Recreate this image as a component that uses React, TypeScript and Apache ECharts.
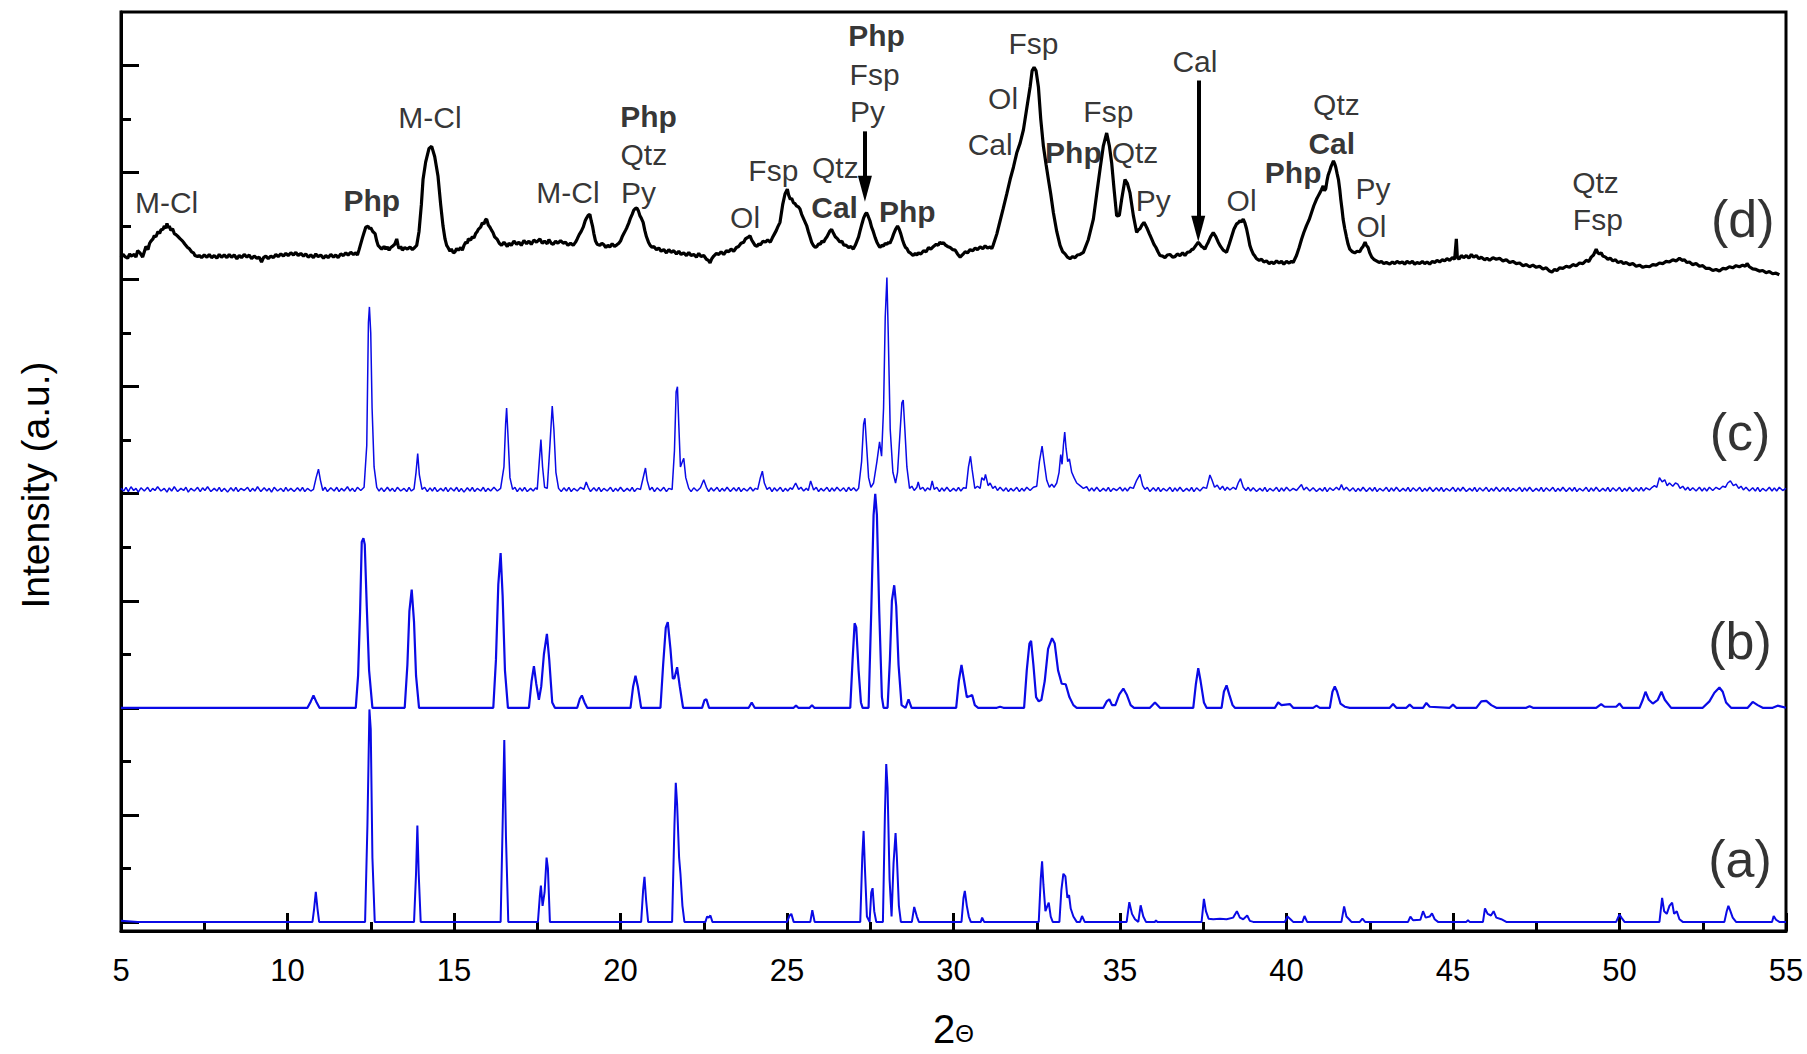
import React, { useEffect, useRef } from "react";
import * as echarts from "echarts";

// ---------------- data (2θ, stacked intensity in a.u.) ----------------
const seriesA: number[][] = [
  [5, 0.02], [5.5, 0],
  [10.75, 0], [10.8, 0.25], [10.85, 0.56], [10.9, 0.25], [10.95, 0],
  [12.33, 0], [12.4, 1.8], [12.46, 3.97], [12.5, 3.6], [12.55, 1.2], [12.62, 0],
  [13.8, 0], [13.86, 0.9], [13.9, 1.8], [13.94, 0.9], [14.0, 0],
  [16.4, 0], [16.46, 1.8], [16.51, 3.4], [16.56, 1.6], [16.63, 0],
  [17.52, 0], [17.58, 0.5], [17.61, 0.68], [17.66, 0.3], [17.72, 0.55], [17.78, 1.2], [17.82, 1.0], [17.88, 0],
  [20.62, 0], [20.68, 0.6], [20.72, 0.84], [20.77, 0.4], [20.83, 0],
  [21.55, 0], [21.62, 1.8], [21.66, 2.6], [21.7, 2.2], [21.76, 1.2], [21.8, 0.9], [21.86, 0.3], [21.92, 0],
  [22.55, 0], [22.6, 0.1], [22.65, 0.08], [22.7, 0.12], [22.76, 0],
  [25.0, 0], [25.08, 0.12], [25.13, 0.15], [25.2, 0],
  [25.7, 0], [25.76, 0.22], [25.83, 0],
  [27.2, 0], [27.26, 1.2], [27.3, 1.7], [27.34, 1.0], [27.4, 0.1], [27.48, 0], [27.53, 0.55], [27.57, 0.63], [27.62, 0.2], [27.68, 0],
  [27.88, 0], [27.94, 2.0], [27.98, 2.95], [28.02, 2.5], [28.08, 0.8], [28.14, 0.1], [28.2, 1.1], [28.26, 1.66], [28.3, 1.2], [28.36, 0.3], [28.42, 0],
  [28.75, 0], [28.82, 0.28], [28.9, 0.1], [28.96, 0],
  [30.24, 0], [30.3, 0.45], [30.34, 0.58], [30.4, 0.3], [30.46, 0.1], [30.52, 0],
  [30.82, 0], [30.86, 0.08], [30.92, 0],
  [32.56, 0], [32.62, 0.8], [32.66, 1.13], [32.7, 0.7], [32.76, 0.2], [32.82, 0.3], [32.86, 0.36], [32.92, 0.1], [32.98, 0],
  [33.18, 0], [33.24, 0.6], [33.3, 0.9], [33.36, 0.85], [33.42, 0.45], [33.47, 0.5], [33.52, 0.25], [33.6, 0.1], [33.7, 0],
  [33.8, 0], [33.86, 0.11], [33.94, 0],
  [35.2, 0], [35.28, 0.37], [35.36, 0.15], [35.45, 0.05], [35.55, 0], [35.62, 0.31], [35.7, 0.1], [35.78, 0],
  [36.05, 0], [36.08, 0.03], [36.12, 0],
  [37.45, 0], [37.52, 0.43], [37.58, 0.2], [37.66, 0.06], [37.8, 0.05], [38.0, 0.06], [38.2, 0.05], [38.4, 0.08], [38.51, 0.2], [38.6, 0.08], [38.7, 0.05], [38.82, 0.12], [38.9, 0.02], [39.0, 0],
  [39.95, 0], [40.03, 0.1], [40.12, 0.05], [40.2, 0],
  [40.48, 0], [40.54, 0.11], [40.62, 0],
  [41.65, 0], [41.73, 0.29], [41.8, 0.1], [41.88, 0.05], [41.95, 0],
  [42.2, 0], [42.28, 0.06], [42.36, 0],
  [43.65, 0], [43.72, 0.1], [43.8, 0.03], [44.02, 0.04], [44.1, 0.2], [44.18, 0.08], [44.3, 0.1], [44.37, 0.16], [44.45, 0.05], [44.55, 0],
  [45.4, 0], [45.45, 0.03], [45.5, 0],
  [45.9, 0], [45.96, 0.25], [46.04, 0.15], [46.14, 0.12], [46.22, 0.2], [46.3, 0.08], [46.45, 0.05], [46.6, 0],
  [49.9, 0], [50.0, 0.14], [50.08, 0.06], [50.15, 0],
  [51.2, 0], [51.28, 0.45], [51.34, 0.2], [51.42, 0.15], [51.5, 0.3], [51.58, 0.36], [51.64, 0.15], [51.72, 0.2], [51.8, 0.05], [51.9, 0],
  [53.15, 0], [53.22, 0.2], [53.27, 0.3], [53.32, 0.22], [53.4, 0.08], [53.5, 0],
  [54.58, 0], [54.63, 0.11], [54.7, 0.04], [54.8, 0],
  [55, 0],
];

const seriesB: number[][] = [
  [5, 4.0],
  [10.6, 4.0], [10.7, 4.12], [10.78, 4.23], [10.86, 4.12], [10.96, 4.0],
  [12.05, 4.0], [12.12, 4.6], [12.18, 5.8], [12.23, 7.1], [12.28, 7.17], [12.32, 7.05], [12.38, 5.9], [12.45, 4.7], [12.55, 4.0],
  [13.52, 4.0], [13.6, 4.8], [13.66, 5.8], [13.73, 6.21], [13.8, 5.6], [13.86, 4.6], [13.95, 4.0],
  [16.18, 4.0], [16.26, 4.9], [16.33, 6.3], [16.4, 6.89], [16.46, 6.1], [16.53, 4.7], [16.62, 4.0],
  [17.25, 4.0], [17.33, 4.5], [17.4, 4.78], [17.47, 4.45], [17.55, 4.15], [17.62, 4.4], [17.7, 5.0], [17.79, 5.38], [17.86, 4.9], [17.95, 4.1], [18.03, 4.0],
  [18.7, 4.0], [18.78, 4.17], [18.84, 4.23], [18.92, 4.1], [19.0, 4.0],
  [20.3, 4.0], [20.38, 4.4], [20.45, 4.6], [20.52, 4.4], [20.62, 4.0],
  [21.2, 4.0], [21.28, 4.8], [21.36, 5.5], [21.42, 5.6], [21.5, 5.1], [21.57, 4.55], [21.62, 4.55], [21.7, 4.76], [21.78, 4.4], [21.88, 4.0],
  [22.45, 4.0], [22.52, 4.14], [22.58, 4.16], [22.66, 4.0],
  [23.85, 4.0], [23.94, 4.1], [24.03, 4.0],
  [25.2, 4.0], [25.27, 4.04], [25.34, 4.0],
  [25.68, 4.0], [25.75, 4.05], [25.82, 4.0],
  [26.9, 4.0], [26.97, 4.9], [27.03, 5.58], [27.08, 5.5], [27.15, 4.7], [27.22, 4.1], [27.27, 4.0],
  [27.45, 4.0], [27.53, 5.8], [27.6, 7.6], [27.65, 8.0], [27.7, 7.6], [27.77, 5.8], [27.85, 4.2], [27.9, 4.0],
  [28.02, 4.0], [28.09, 4.9], [28.15, 6.0], [28.22, 6.29], [28.28, 5.9], [28.35, 4.8], [28.44, 4.05],
  [28.56, 4.0], [28.65, 4.16], [28.74, 4.0],
  [30.08, 4.0], [30.16, 4.5], [30.24, 4.8], [30.32, 4.5], [30.4, 4.2], [30.5, 4.22], [30.56, 4.24], [30.64, 4.05], [30.74, 4.0],
  [31.3, 4.0], [31.4, 4.02], [31.5, 4.0],
  [32.12, 4.0], [32.2, 4.7], [32.28, 5.2], [32.33, 5.25], [32.4, 4.8], [32.48, 4.2], [32.56, 4.12], [32.64, 4.15],
  [32.74, 4.5], [32.84, 5.1], [32.96, 5.3], [33.04, 5.2], [33.14, 4.7], [33.25, 4.45], [33.37, 4.44], [33.48, 4.2], [33.6, 4.05], [33.7, 4.0],
  [34.5, 4.0], [34.6, 4.12], [34.68, 4.16], [34.76, 4.05], [34.86, 4.05], [34.98, 4.25], [35.1, 4.36], [35.2, 4.25], [35.32, 4.05], [35.42, 4.0],
  [35.9, 4.0], [36.05, 4.1], [36.2, 4.0],
  [37.2, 4.0], [37.28, 4.45], [37.35, 4.74], [37.42, 4.5], [37.52, 4.1], [37.6, 4.0],
  [38.05, 4.0], [38.12, 4.3], [38.2, 4.42], [38.28, 4.25], [38.38, 4.05], [38.45, 4.0],
  [39.65, 4.0], [39.75, 4.1], [39.85, 4.05], [40.1, 4.07], [40.2, 4.0],
  [40.8, 4.0], [40.9, 4.04], [41.0, 4.0],
  [41.3, 4.0], [41.38, 4.3], [41.45, 4.4], [41.52, 4.3], [41.62, 4.08], [41.75, 4.02], [41.9, 4.0],
  [43.1, 4.0], [43.2, 4.07], [43.3, 4.0],
  [43.6, 4.0], [43.7, 4.06], [43.8, 4.0],
  [44.1, 4.0], [44.2, 4.09], [44.3, 4.02],
  [44.9, 4.0], [45.0, 4.06], [45.1, 4.0],
  [45.7, 4.0], [45.85, 4.12], [46.0, 4.13], [46.15, 4.05], [46.3, 4.0],
  [47.2, 4.0], [47.3, 4.03], [47.4, 4.0],
  [49.3, 4.0], [49.45, 4.07], [49.55, 4.02], [49.9, 4.02], [50.0, 4.08], [50.1, 4.0],
  [50.6, 4.0], [50.7, 4.15], [50.78, 4.3], [50.88, 4.15], [51.0, 4.08], [51.15, 4.15], [51.26, 4.3], [51.36, 4.15], [51.55, 4.0],
  [52.5, 4.0], [52.7, 4.12], [52.85, 4.28], [53.0, 4.38], [53.1, 4.3], [53.2, 4.1], [53.35, 4.0],
  [53.85, 4.0], [54.0, 4.11], [54.15, 4.05], [54.3, 4.0],
  [54.6, 4.0], [54.75, 4.04], [55, 4.0],
];

const seriesC: number[][] = [
  [5.0, 8.1], [5.08, 8.05], [5.15, 8.12], [5.22, 8.04], [5.3, 8.13], [5.38, 8.06], [5.45, 8.1], [5.52, 8.03], [5.6, 8.11], [5.7, 8.05], [5.8, 8.12], [5.88, 8.04], [5.95, 8.1], [6.02, 8.06], [6.1, 8.13], [6.2, 8.05], [6.3, 8.1], [6.38, 8.03], [6.45, 8.11], [6.52, 8.05], [6.6, 8.13], [6.7, 8.04], [6.8, 8.1], [6.88, 8.06], [6.95, 8.12], [7.02, 8.03], [7.1, 8.1], [7.2, 8.05], [7.3, 8.12], [7.38, 8.04], [7.45, 8.11], [7.52, 8.06], [7.6, 8.13], [7.7, 8.04], [7.8, 8.1], [7.88, 8.05], [7.95, 8.12], [8.02, 8.04], [8.1, 8.1], [8.2, 8.03], [8.3, 8.11], [8.38, 8.05], [8.45, 8.12], [8.52, 8.04], [8.6, 8.1], [8.7, 8.06], [8.8, 8.12], [8.88, 8.04], [8.95, 8.1], [9.02, 8.05], [9.1, 8.13], [9.2, 8.04], [9.3, 8.11], [9.38, 8.05], [9.45, 8.1], [9.52, 8.03], [9.6, 8.12], [9.7, 8.05], [9.8, 8.1], [9.88, 8.04], [9.95, 8.12], [10.02, 8.05], [10.1, 8.1], [10.2, 8.04], [10.3, 8.11], [10.38, 8.05], [10.45, 8.12], [10.52, 8.04], [10.6, 8.1], [10.7, 8.05], [10.78, 8.08],
  [10.86, 8.3], [10.93, 8.46], [10.99, 8.25], [11.06, 8.06], [11.13, 8.12], [11.2, 8.04], [11.3, 8.11], [11.4, 8.05], [11.48, 8.12], [11.55, 8.04], [11.62, 8.1], [11.7, 8.05], [11.8, 8.13], [11.88, 8.05], [11.95, 8.1], [12.02, 8.04], [12.1, 8.12], [12.2, 8.06], [12.3, 8.12],
  [12.38, 8.9], [12.43, 11.2], [12.46, 11.49], [12.5, 11.0], [12.54, 9.6], [12.6, 8.5], [12.68, 8.12], [12.75, 8.05], [12.82, 8.11], [12.9, 8.04], [13.0, 8.12], [13.08, 8.05], [13.15, 8.1], [13.22, 8.04], [13.3, 8.12], [13.4, 8.05], [13.5, 8.1], [13.58, 8.04], [13.65, 8.12], [13.72, 8.05], [13.8, 8.09],
  [13.86, 8.4], [13.91, 8.75], [13.96, 8.35], [14.04, 8.08], [14.12, 8.12], [14.2, 8.04], [14.28, 8.11], [14.35, 8.05], [14.42, 8.12], [14.5, 8.04], [14.6, 8.1], [14.68, 8.05], [14.75, 8.12], [14.82, 8.04], [14.9, 8.11], [15.0, 8.05], [15.08, 8.12], [15.15, 8.04], [15.22, 8.1], [15.3, 8.03], [15.4, 8.11], [15.48, 8.05], [15.55, 8.12], [15.62, 8.04], [15.7, 8.1], [15.8, 8.05], [15.88, 8.12], [15.95, 8.04], [16.02, 8.1], [16.1, 8.05], [16.2, 8.12], [16.3, 8.05], [16.4, 8.1],
  [16.5, 8.5], [16.55, 9.3], [16.58, 9.6], [16.62, 9.1], [16.68, 8.3], [16.76, 8.08], [16.83, 8.12], [16.9, 8.04], [16.98, 8.11], [17.05, 8.05], [17.12, 8.12], [17.2, 8.04], [17.3, 8.1], [17.38, 8.05], [17.45, 8.11], [17.5, 8.08],
  [17.56, 8.6], [17.61, 9.01], [17.66, 8.5], [17.72, 8.12], [17.8, 8.1], [17.88, 8.9], [17.95, 9.64], [18.0, 9.2], [18.06, 8.4], [18.14, 8.1], [18.22, 8.04], [18.3, 8.11], [18.38, 8.05], [18.45, 8.12], [18.52, 8.04], [18.6, 8.1], [18.7, 8.05], [18.8, 8.12], [18.9, 8.08],
  [18.97, 8.22], [19.03, 8.12], [19.1, 8.04], [19.2, 8.11], [19.28, 8.05], [19.35, 8.12], [19.42, 8.04], [19.5, 8.1], [19.6, 8.05], [19.7, 8.12], [19.78, 8.04], [19.85, 8.1], [19.92, 8.05], [20.0, 8.12], [20.1, 8.04], [20.2, 8.1], [20.28, 8.05], [20.35, 8.12], [20.42, 8.04], [20.5, 8.1], [20.6, 8.08],
  [20.7, 8.35], [20.75, 8.48], [20.8, 8.25], [20.88, 8.07], [20.95, 8.12], [21.02, 8.04], [21.1, 8.11], [21.2, 8.05], [21.3, 8.12], [21.38, 8.04], [21.45, 8.1], [21.55, 8.08],
  [21.62, 8.8], [21.67, 9.9], [21.71, 10.0], [21.75, 9.3], [21.8, 8.5], [21.86, 8.6], [21.9, 8.66], [21.96, 8.3], [22.05, 8.1], [22.12, 8.04], [22.2, 8.11], [22.3, 8.05], [22.4, 8.11],
  [22.5, 8.26], [22.58, 8.12], [22.65, 8.04], [22.72, 8.11], [22.8, 8.05], [22.9, 8.12], [22.98, 8.04], [23.05, 8.1], [23.12, 8.05], [23.2, 8.12], [23.3, 8.04], [23.4, 8.11], [23.48, 8.05], [23.55, 8.12], [23.62, 8.04], [23.7, 8.1], [23.8, 8.05], [23.9, 8.12], [23.98, 8.05], [24.05, 8.1], [24.12, 8.08],
  [24.2, 8.3], [24.26, 8.42], [24.32, 8.2], [24.4, 8.08], [24.48, 8.12], [24.55, 8.04], [24.62, 8.11], [24.7, 8.05], [24.8, 8.12], [24.88, 8.04], [24.95, 8.1], [25.02, 8.05], [25.1, 8.11], [25.16, 8.08],
  [25.26, 8.2], [25.35, 8.08], [25.42, 8.12], [25.5, 8.05], [25.58, 8.1], [25.64, 8.06], [25.71, 8.24], [25.8, 8.07], [25.88, 8.12], [25.95, 8.04], [26.02, 8.1], [26.1, 8.05], [26.2, 8.12], [26.28, 8.04], [26.35, 8.11], [26.42, 8.05], [26.5, 8.12], [26.6, 8.05], [26.7, 8.11], [26.78, 8.04], [26.85, 8.12], [26.92, 8.06], [27.0, 8.11], [27.08, 8.05], [27.15, 8.1],
  [27.24, 8.6], [27.3, 9.3], [27.34, 9.41], [27.38, 9.0], [27.45, 8.3], [27.52, 8.12], [27.6, 8.2], [27.7, 8.6], [27.78, 8.97], [27.84, 8.7],
  [27.9, 9.6], [27.95, 11.3], [28.0, 12.04], [28.04, 11.0], [28.1, 9.2], [28.18, 8.4], [28.26, 8.2], [28.32, 8.4],
  [28.4, 9.2], [28.45, 9.7], [28.49, 9.75], [28.54, 9.2], [28.6, 8.5], [28.68, 8.1], [28.75, 8.14], [28.82, 8.06], [28.9, 8.12], [28.94, 8.22], [29.0, 8.08], [29.08, 8.12], [29.15, 8.05], [29.22, 8.11], [29.3, 8.07], [29.36, 8.24], [29.42, 8.08], [29.5, 8.12], [29.58, 8.04], [29.65, 8.11], [29.72, 8.05], [29.8, 8.12], [29.9, 8.04], [30.0, 8.1], [30.08, 8.05], [30.15, 8.12], [30.22, 8.05], [30.3, 8.11], [30.38, 8.1],
  [30.45, 8.5], [30.51, 8.7], [30.56, 8.45], [30.64, 8.1], [30.72, 8.14], [30.8, 8.1], [30.85, 8.3], [30.92, 8.25], [30.96, 8.36], [31.04, 8.15], [31.1, 8.2], [31.18, 8.1], [31.25, 8.14], [31.32, 8.06], [31.4, 8.12], [31.5, 8.05], [31.58, 8.11], [31.65, 8.04], [31.72, 8.1], [31.8, 8.05], [31.9, 8.12], [31.98, 8.04], [32.05, 8.1], [32.12, 8.05], [32.2, 8.12], [32.3, 8.06], [32.4, 8.12], [32.5, 8.14],
  [32.58, 8.6], [32.66, 8.89], [32.72, 8.6], [32.8, 8.25], [32.88, 8.12], [32.95, 8.18], [33.02, 8.12], [33.1, 8.2], [33.17, 8.4], [33.22, 8.73], [33.26, 8.55], [33.3, 8.9], [33.34, 9.15], [33.38, 8.85], [33.43, 8.6], [33.48, 8.65], [33.55, 8.4], [33.62, 8.3], [33.7, 8.2], [33.8, 8.15], [33.9, 8.1], [34.0, 8.13], [34.08, 8.05], [34.15, 8.11], [34.22, 8.05], [34.3, 8.12], [34.4, 8.04], [34.5, 8.1], [34.58, 8.05], [34.65, 8.12], [34.72, 8.04], [34.8, 8.1], [34.9, 8.06], [35.0, 8.12], [35.08, 8.05], [35.15, 8.11], [35.22, 8.05], [35.3, 8.12], [35.4, 8.1],
  [35.5, 8.25], [35.6, 8.36], [35.68, 8.15], [35.75, 8.08], [35.82, 8.12], [35.9, 8.04], [36.0, 8.11], [36.08, 8.05], [36.15, 8.12], [36.22, 8.04], [36.3, 8.1], [36.4, 8.05], [36.5, 8.12], [36.58, 8.04], [36.65, 8.11], [36.72, 8.05], [36.8, 8.12], [36.9, 8.04], [37.0, 8.1], [37.08, 8.05], [37.15, 8.12], [37.22, 8.04], [37.3, 8.11], [37.4, 8.05], [37.5, 8.12], [37.6, 8.1],
  [37.7, 8.35], [37.76, 8.26], [37.84, 8.12], [37.92, 8.16], [38.0, 8.08], [38.08, 8.14], [38.15, 8.06], [38.22, 8.12], [38.3, 8.07], [38.4, 8.12], [38.48, 8.08], [38.55, 8.2], [38.62, 8.28], [38.7, 8.12], [38.78, 8.06], [38.85, 8.12], [38.92, 8.05], [39.0, 8.11], [39.1, 8.04], [39.2, 8.1], [39.28, 8.05], [39.35, 8.12], [39.42, 8.04], [39.5, 8.1], [39.6, 8.05], [39.7, 8.12], [39.78, 8.04], [39.85, 8.11], [39.92, 8.05], [40.0, 8.12], [40.1, 8.05], [40.2, 8.1], [40.3, 8.06], [40.38, 8.12], [40.45, 8.17], [40.52, 8.07], [40.6, 8.12], [40.7, 8.05], [40.8, 8.11], [40.9, 8.04], [41.0, 8.1], [41.08, 8.05], [41.15, 8.12], [41.22, 8.04], [41.3, 8.11], [41.4, 8.06], [41.5, 8.12], [41.58, 8.07], [41.65, 8.17], [41.72, 8.07], [41.8, 8.12], [41.9, 8.05],
  [42.0, 8.11], [42.08, 8.04], [42.15, 8.1], [42.22, 8.05], [42.3, 8.12], [42.4, 8.04], [42.5, 8.11], [42.58, 8.05], [42.65, 8.12], [42.72, 8.04], [42.8, 8.1], [42.9, 8.05], [43.0, 8.12], [43.08, 8.04], [43.15, 8.11], [43.22, 8.05], [43.3, 8.12], [43.4, 8.04], [43.5, 8.1], [43.58, 8.05], [43.65, 8.12], [43.72, 8.04], [43.8, 8.11], [43.9, 8.05], [44.0, 8.12], [44.08, 8.04], [44.15, 8.1], [44.22, 8.05], [44.3, 8.12], [44.4, 8.04], [44.5, 8.11], [44.58, 8.05], [44.65, 8.12], [44.72, 8.04], [44.8, 8.1], [44.9, 8.05], [45.0, 8.12], [45.08, 8.04], [45.15, 8.11], [45.22, 8.05], [45.3, 8.12], [45.4, 8.04], [45.5, 8.1], [45.58, 8.05], [45.65, 8.12], [45.72, 8.04], [45.8, 8.11], [45.9, 8.05], [46.0, 8.12], [46.08, 8.04], [46.15, 8.1], [46.22, 8.05], [46.3, 8.12], [46.4, 8.04], [46.5, 8.11], [46.58, 8.05], [46.65, 8.12], [46.72, 8.04], [46.8, 8.1], [46.9, 8.05], [47.0, 8.12], [47.08, 8.04], [47.15, 8.11], [47.22, 8.05], [47.3, 8.12], [47.4, 8.04], [47.5, 8.1], [47.58, 8.05], [47.65, 8.12], [47.72, 8.04], [47.8, 8.11], [47.9, 8.05], [48.0, 8.12], [48.08, 8.04], [48.15, 8.1], [48.22, 8.05], [48.3, 8.12], [48.4, 8.04], [48.5, 8.11], [48.58, 8.05], [48.65, 8.12], [48.72, 8.04], [48.8, 8.1], [48.9, 8.05], [49.0, 8.12], [49.08, 8.04], [49.15, 8.11], [49.22, 8.05], [49.3, 8.12], [49.4, 8.04], [49.5, 8.1], [49.58, 8.05], [49.65, 8.12], [49.72, 8.04], [49.8, 8.11], [49.9, 8.05], [50.0, 8.12], [50.08, 8.04], [50.15, 8.1], [50.22, 8.05], [50.3, 8.12], [50.4, 8.04], [50.5, 8.11], [50.58, 8.05], [50.65, 8.12], [50.72, 8.05], [50.8, 8.11], [50.9, 8.07], [50.98, 8.12],
  [51.05, 8.15], [51.12, 8.12], [51.2, 8.3], [51.28, 8.22], [51.36, 8.26], [51.43, 8.15], [51.5, 8.2], [51.6, 8.14], [51.68, 8.2], [51.75, 8.18], [51.82, 8.1], [51.9, 8.14], [51.98, 8.07], [52.05, 8.12], [52.12, 8.06], [52.2, 8.11], [52.3, 8.05], [52.4, 8.12], [52.48, 8.05], [52.55, 8.11], [52.62, 8.05], [52.7, 8.12], [52.8, 8.06], [52.9, 8.12], [53.0, 8.08], [53.1, 8.14], [53.18, 8.12], [53.25, 8.2], [53.33, 8.24], [53.42, 8.15], [53.5, 8.18], [53.58, 8.1], [53.65, 8.14], [53.72, 8.07], [53.8, 8.12], [53.9, 8.05], [54.0, 8.11], [54.08, 8.05], [54.15, 8.12], [54.22, 8.04], [54.3, 8.1], [54.4, 8.05], [54.5, 8.12], [54.58, 8.05], [54.65, 8.11], [54.72, 8.05], [54.8, 8.12], [54.9, 8.06], [55, 8.1],
];

const seriesD: number[][] = [
  [5.0, 12.42], [5.06, 12.47], [5.12, 12.43], [5.2, 12.4], [5.26, 12.48], [5.3, 12.44], [5.4, 12.47], [5.45, 12.42], [5.5, 12.54], [5.57, 12.5], [5.65, 12.42], [5.7, 12.52], [5.75, 12.62], [5.81, 12.56], [5.86, 12.68], [5.9, 12.72], [5.96, 12.76], [6.0, 12.82], [6.05, 12.8], [6.11, 12.9], [6.16, 12.86], [6.2, 12.93], [6.26, 12.94], [6.3, 13.0], [6.35, 12.96], [6.38, 13.05], [6.42, 12.97], [6.45, 13.0], [6.5, 12.92], [6.55, 12.95], [6.6, 12.86], [6.65, 12.84], [6.72, 12.8], [6.78, 12.76], [6.85, 12.72], [6.92, 12.66], [7.0, 12.6], [7.05, 12.58], [7.12, 12.52], [7.18, 12.5], [7.22, 12.45], [7.3, 12.43], [7.35, 12.45],
  [7.42, 12.41], [7.5, 12.46], [7.58, 12.42], [7.65, 12.47], [7.72, 12.41], [7.8, 12.45], [7.88, 12.4], [7.95, 12.47], [8.02, 12.42], [8.1, 12.46], [8.18, 12.41], [8.25, 12.47], [8.32, 12.42], [8.4, 12.46], [8.48, 12.39], [8.55, 12.45], [8.62, 12.41], [8.7, 12.47], [8.78, 12.42], [8.85, 12.46], [8.92, 12.39], [9.0, 12.44], [9.08, 12.4], [9.15, 12.42], [9.22, 12.33], [9.28, 12.41], [9.35, 12.44], [9.42, 12.39], [9.5, 12.44], [9.58, 12.41], [9.65, 12.47], [9.72, 12.43], [9.8, 12.48], [9.88, 12.44], [9.95, 12.49], [10.02, 12.45], [10.1, 12.5], [10.18, 12.46], [10.25, 12.51], [10.32, 12.45], [10.4, 12.49], [10.48, 12.44], [10.55, 12.48], [10.62, 12.42], [10.7, 12.46], [10.78, 12.41], [10.85, 12.48], [10.92, 12.43], [11.0, 12.46], [11.08, 12.4], [11.15, 12.45], [11.22, 12.41], [11.3, 12.47], [11.38, 12.42], [11.45, 12.46], [11.52, 12.41], [11.6, 12.48], [11.68, 12.45], [11.75, 12.5], [11.82, 12.46], [11.9, 12.51], [11.98, 12.47], [12.05, 12.5], [12.1, 12.46], [12.15, 12.56],
  [12.25, 12.78], [12.3, 12.88], [12.35, 12.98], [12.42, 13.0], [12.46, 12.95], [12.5, 12.97], [12.56, 12.9], [12.63, 12.86], [12.68, 12.72], [12.72, 12.64], [12.78, 12.6], [12.83, 12.57], [12.9, 12.62], [12.95, 12.57], [13.0, 12.61], [13.05, 12.55], [13.1, 12.6], [13.15, 12.62], [13.22, 12.66], [13.28, 12.76], [13.32, 12.64], [13.35, 12.58], [13.4, 12.62], [13.45, 12.55], [13.52, 12.6], [13.6, 12.57], [13.68, 12.61], [13.75, 12.56], [13.82, 12.6], [13.88, 12.64],
  [13.95, 12.9], [14.02, 13.4], [14.07, 13.87], [14.15, 14.2], [14.25, 14.45], [14.33, 14.49], [14.42, 14.3], [14.52, 13.93], [14.6, 13.4], [14.67, 13.0], [14.73, 12.76], [14.78, 12.64], [14.82, 12.6], [14.88, 12.53], [14.92, 12.57], [14.98, 12.5], [15.03, 12.52], [15.08, 12.58], [15.13, 12.55], [15.2, 12.6], [15.25, 12.55], [15.3, 12.64], [15.35, 12.7], [15.4, 12.68], [15.43, 12.76], [15.5, 12.74], [15.55, 12.8], [15.6, 12.78], [15.65, 12.86], [15.7, 12.9], [15.73, 12.94], [15.8, 12.98], [15.85, 13.06], [15.9, 13.04], [15.95, 13.12], [15.98, 13.13], [16.03, 13.02], [16.08, 12.98], [16.13, 12.92], [16.17, 12.88], [16.22, 12.8], [16.3, 12.75], [16.36, 12.68], [16.43, 12.64], [16.5, 12.7], [16.55, 12.66], [16.6, 12.62], [16.65, 12.68], [16.72, 12.64], [16.8, 12.72], [16.88, 12.66], [16.95, 12.7], [17.02, 12.64], [17.1, 12.73], [17.18, 12.67], [17.25, 12.72], [17.32, 12.66], [17.4, 12.74], [17.48, 12.7], [17.58, 12.76], [17.65, 12.68], [17.72, 12.72], [17.8, 12.67], [17.85, 12.75], [17.92, 12.68], [17.98, 12.66], [18.05, 12.72], [18.12, 12.68], [18.2, 12.73], [18.28, 12.68], [18.35, 12.7], [18.42, 12.64], [18.5, 12.68], [18.58, 12.64],
  [18.65, 12.7], [18.7, 12.76], [18.76, 12.84], [18.82, 12.9], [18.88, 12.98], [18.94, 13.1], [18.98, 13.15], [19.03, 13.2], [19.08, 13.22], [19.12, 13.1], [19.16, 13.0], [19.2, 12.86], [19.25, 12.72], [19.3, 12.66], [19.38, 12.64], [19.44, 12.68], [19.5, 12.65], [19.56, 12.6], [19.62, 12.64], [19.68, 12.61], [19.75, 12.67], [19.82, 12.62], [19.89, 12.65], [19.95, 12.68], [20.0, 12.72], [20.05, 12.8], [20.1, 12.86], [20.15, 12.92], [20.19, 12.97], [20.25, 13.06], [20.3, 13.15], [20.35, 13.22], [20.4, 13.3], [20.45, 13.33], [20.49, 13.34], [20.54, 13.28], [20.58, 13.2], [20.63, 13.14], [20.68, 13.07], [20.73, 12.92], [20.78, 12.8], [20.84, 12.7], [20.89, 12.64], [20.95, 12.6], [21.0, 12.62], [21.08, 12.56], [21.15, 12.59], [21.22, 12.53], [21.3, 12.56], [21.38, 12.5], [21.45, 12.56], [21.52, 12.51], [21.6, 12.54], [21.68, 12.48], [21.75, 12.53], [21.82, 12.47], [21.9, 12.5], [21.98, 12.45], [22.05, 12.51], [22.12, 12.45], [22.2, 12.47], [22.28, 12.42], [22.35, 12.49], [22.42, 12.43], [22.5, 12.45], [22.58, 12.38], [22.64, 12.36], [22.69, 12.31], [22.74, 12.39], [22.8, 12.44], [22.88, 12.49], [22.95, 12.47], [23.02, 12.52], [23.1, 12.47], [23.18, 12.54], [23.25, 12.52], [23.32, 12.57], [23.4, 12.53], [23.48, 12.6], [23.55, 12.62], [23.62, 12.68], [23.7, 12.7], [23.75, 12.76], [23.8, 12.78], [23.85, 12.8], [23.89, 12.82], [23.94, 12.74], [23.98, 12.7], [24.04, 12.64], [24.1, 12.62], [24.15, 12.67], [24.2, 12.65], [24.28, 12.72], [24.35, 12.7], [24.42, 12.74], [24.5, 12.7], [24.56, 12.78], [24.62, 12.85], [24.68, 12.92], [24.72, 12.98], [24.79, 13.07],
  [24.87, 13.4], [24.94, 13.6], [25.01, 13.69], [25.05, 13.58], [25.1, 13.5], [25.14, 13.52], [25.19, 13.44], [25.24, 13.42], [25.28, 13.38], [25.34, 13.36], [25.39, 13.32], [25.44, 13.22], [25.49, 13.15], [25.54, 13.08], [25.59, 13.01], [25.64, 12.9], [25.69, 12.8], [25.74, 12.7], [25.79, 12.64], [25.85, 12.6], [25.9, 12.62], [25.95, 12.67], [26.0, 12.66], [26.05, 12.72], [26.1, 12.7], [26.15, 12.76], [26.2, 12.8], [26.25, 12.86], [26.28, 12.9], [26.34, 12.94], [26.4, 12.86], [26.45, 12.8], [26.52, 12.76], [26.59, 12.7], [26.65, 12.72], [26.7, 12.65], [26.78, 12.64], [26.85, 12.6], [26.92, 12.62], [26.99, 12.57], [27.05, 12.64], [27.1, 12.72], [27.15, 12.8], [27.19, 12.9], [27.25, 13.04], [27.3, 13.15], [27.35, 13.22], [27.39, 13.25], [27.44, 13.18], [27.49, 13.1], [27.54, 12.98], [27.59, 12.9], [27.65, 12.78], [27.7, 12.7], [27.75, 12.64], [27.79, 12.6], [27.85, 12.64], [27.9, 12.63], [27.95, 12.68], [28.0, 12.66], [28.05, 12.7], [28.09, 12.68], [28.15, 12.76], [28.2, 12.85], [28.26, 12.94], [28.32, 13.0], [28.37, 12.94], [28.42, 12.85], [28.47, 12.74], [28.52, 12.65], [28.56, 12.6], [28.6, 12.58], [28.65, 12.52], [28.7, 12.5], [28.75, 12.47], [28.79, 12.45], [28.85, 12.49], [28.9, 12.46], [28.95, 12.5], [29.02, 12.48], [29.1, 12.54], [29.18, 12.52], [29.25, 12.6], [29.32, 12.57], [29.4, 12.62], [29.48, 12.66], [29.54, 12.64], [29.59, 12.7], [29.65, 12.67], [29.7, 12.69], [29.75, 12.65], [29.82, 12.62], [29.9, 12.6], [29.98, 12.56], [30.05, 12.55], [30.12, 12.48], [30.2, 12.42], [30.28, 12.47], [30.35, 12.52], [30.42, 12.5], [30.5, 12.56], [30.58, 12.54], [30.65, 12.59], [30.72, 12.56], [30.8, 12.61], [30.88, 12.58], [30.95, 12.63], [31.02, 12.59], [31.1, 12.61], [31.15, 12.58], [31.19, 12.64],
  [31.3, 12.85], [31.4, 13.1], [31.49, 13.32], [31.6, 13.6], [31.7, 13.87], [31.8, 14.1], [31.9, 14.37], [32.0, 14.55], [32.1, 14.8], [32.2, 15.2], [32.3, 15.6], [32.36, 15.9], [32.42, 15.97], [32.48, 15.9], [32.55, 15.6], [32.62, 15.0], [32.7, 14.49], [32.78, 14.15], [32.85, 13.87], [32.92, 13.6], [33.0, 13.25], [33.1, 12.9], [33.2, 12.64], [33.28, 12.52], [33.35, 12.48], [33.42, 12.42], [33.5, 12.39], [33.58, 12.43], [33.65, 12.41], [33.72, 12.46], [33.8, 12.47], [33.9, 12.51],
  [34.05, 12.75], [34.2, 13.13], [34.3, 13.6], [34.4, 14.06], [34.5, 14.5], [34.6, 14.74], [34.68, 14.5], [34.75, 14.18], [34.82, 13.7], [34.9, 13.19], [34.98, 13.2], [35.05, 13.5], [35.15, 13.87], [35.22, 13.8], [35.3, 13.62], [35.4, 13.2], [35.5, 12.88], [35.55, 12.93], [35.6, 12.95], [35.66, 13.02], [35.72, 13.07], [35.78, 13.0], [35.82, 12.95], [35.88, 12.86], [35.95, 12.76], [36.02, 12.66], [36.08, 12.6], [36.14, 12.52], [36.2, 12.45], [36.28, 12.44], [36.35, 12.41], [36.42, 12.46], [36.5, 12.47], [36.58, 12.42], [36.65, 12.43], [36.72, 12.48], [36.8, 12.45], [36.88, 12.5], [36.95, 12.45], [37.02, 12.51], [37.1, 12.52], [37.15, 12.56], [37.2, 12.57], [37.28, 12.64], [37.35, 12.7], [37.4, 12.66], [37.45, 12.62], [37.5, 12.6], [37.55, 12.57], [37.6, 12.64], [37.65, 12.7], [37.72, 12.8], [37.8, 12.88], [37.88, 12.8], [37.95, 12.7], [38.02, 12.62], [38.1, 12.55], [38.15, 12.53], [38.2, 12.51], [38.28, 12.66], [38.35, 12.8], [38.42, 12.94], [38.5, 13.04], [38.55, 13.06], [38.6, 13.1], [38.65, 13.08], [38.7, 13.13], [38.75, 13.06], [38.8, 12.95], [38.85, 12.8], [38.9, 12.64], [38.95, 12.55], [39.0, 12.48], [39.05, 12.44], [39.1, 12.39], [39.18, 12.36], [39.25, 12.38], [39.32, 12.33], [39.4, 12.35], [39.48, 12.3], [39.55, 12.33], [39.62, 12.3], [39.7, 12.35], [39.78, 12.31], [39.85, 12.34], [39.92, 12.29], [40.0, 12.34], [40.08, 12.31], [40.15, 12.34], [40.2, 12.32],
  [40.3, 12.45], [40.38, 12.6], [40.45, 12.75], [40.52, 12.88], [40.6, 13.01], [40.68, 13.12], [40.75, 13.25], [40.82, 13.38], [40.9, 13.5], [40.95, 13.56], [41.0, 13.62], [41.05, 13.68], [41.1, 13.75], [41.14, 13.66], [41.18, 13.7], [41.22, 13.86], [41.25, 13.95], [41.3, 14.04], [41.33, 14.1], [41.37, 14.16], [41.41, 14.22], [41.45, 14.16], [41.48, 14.1], [41.52, 13.98], [41.56, 13.87], [41.6, 13.68], [41.63, 13.5], [41.67, 13.3], [41.7, 13.13], [41.75, 12.95], [41.8, 12.8], [41.85, 12.66], [41.9, 12.57], [41.98, 12.52], [42.05, 12.5], [42.12, 12.53], [42.2, 12.52], [42.25, 12.58], [42.3, 12.62], [42.36, 12.7], [42.4, 12.64], [42.45, 12.6], [42.5, 12.5], [42.56, 12.42], [42.62, 12.38], [42.7, 12.35], [42.78, 12.32], [42.85, 12.34], [42.92, 12.3], [43.0, 12.32], [43.1, 12.29], [43.18, 12.33], [43.25, 12.3], [43.32, 12.34], [43.4, 12.31], [43.48, 12.33], [43.55, 12.29], [43.62, 12.34], [43.7, 12.31], [43.78, 12.34], [43.85, 12.29], [43.92, 12.32], [44.0, 12.3], [44.08, 12.34], [44.15, 12.3], [44.22, 12.33], [44.3, 12.29], [44.38, 12.34], [44.45, 12.32], [44.52, 12.36], [44.6, 12.33], [44.68, 12.37], [44.75, 12.35], [44.82, 12.39], [44.9, 12.36], [44.98, 12.41], [45.05, 12.38], [45.1, 12.76], [45.13, 12.42], [45.18, 12.38], [45.25, 12.45], [45.32, 12.41], [45.4, 12.45], [45.48, 12.4], [45.55, 12.47], [45.62, 12.42], [45.7, 12.45], [45.78, 12.39], [45.85, 12.42], [45.95, 12.37], [46.02, 12.4], [46.1, 12.36], [46.2, 12.41], [46.3, 12.38], [46.4, 12.4], [46.5, 12.35], [46.6, 12.37], [46.7, 12.32], [46.8, 12.34], [46.9, 12.3], [47.0, 12.31], [47.1, 12.26], [47.2, 12.28], [47.3, 12.24], [47.4, 12.27], [47.5, 12.23], [47.6, 12.25], [47.7, 12.2], [47.8, 12.22], [47.9, 12.16], [47.97, 12.14], [48.05, 12.19], [48.12, 12.17], [48.2, 12.22], [48.3, 12.21], [48.4, 12.25], [48.5, 12.23], [48.6, 12.28], [48.7, 12.26], [48.8, 12.31], [48.9, 12.3], [49.0, 12.36], [49.08, 12.34], [49.15, 12.42], [49.22, 12.46], [49.3, 12.57], [49.35, 12.5], [49.4, 12.48], [49.45, 12.5], [49.5, 12.44], [49.58, 12.42], [49.65, 12.38], [49.72, 12.4], [49.8, 12.35], [49.88, 12.37], [49.95, 12.32], [50.05, 12.34], [50.12, 12.3], [50.2, 12.32], [50.3, 12.28], [50.4, 12.3], [50.5, 12.25], [50.6, 12.27], [50.7, 12.23], [50.8, 12.25], [50.9, 12.24], [51.0, 12.28], [51.1, 12.27], [51.2, 12.31], [51.3, 12.3], [51.4, 12.34], [51.5, 12.33], [51.6, 12.37], [51.7, 12.35], [51.8, 12.4], [51.88, 12.36], [51.95, 12.37], [52.02, 12.32], [52.1, 12.33], [52.2, 12.28], [52.3, 12.3], [52.4, 12.25], [52.5, 12.26], [52.6, 12.21], [52.7, 12.21], [52.8, 12.17], [52.9, 12.19], [53.0, 12.16], [53.1, 12.21], [53.2, 12.2], [53.3, 12.24], [53.4, 12.22], [53.5, 12.26], [53.6, 12.24], [53.7, 12.27], [53.78, 12.25], [53.83, 12.3], [53.9, 12.24], [54.0, 12.2], [54.1, 12.19], [54.2, 12.16], [54.3, 12.17], [54.4, 12.13], [54.5, 12.15], [54.6, 12.11], [54.7, 12.12], [54.8, 12.09],
];

// phase annotations on pattern (d): [text, 2θ, intensity, bold]
const phaseLabels: [string, number, number, boolean][] = [
  ["M-Cl", 6.37, 13.44, false],
  ["Php", 12.53, 13.47, true],
  ["M-Cl", 14.28, 15.02, false],
  ["M-Cl", 18.42, 13.62, false],
  ["Php", 20.84, 15.05, true],
  ["Qtz", 20.7, 14.34, false],
  ["Py", 20.54, 13.62, false],
  ["Ol", 23.74, 13.16, false],
  ["Fsp", 24.59, 14.03, false],
  ["Qtz", 26.45, 14.09, false],
  ["Cal", 26.43, 13.35, true],
  ["Php", 28.61, 13.28, true],
  ["Php", 27.69, 16.56, true],
  ["Fsp", 27.63, 15.84, false],
  ["Py", 27.42, 15.15, false],
  ["Fsp", 32.4, 16.42, false],
  ["Ol", 31.49, 15.38, false],
  ["Cal", 31.1, 14.52, false],
  ["Fsp", 34.65, 15.15, false],
  ["Php", 33.6, 14.38, true],
  ["Qtz", 35.45, 14.37, false],
  ["Py", 36.0, 13.47, false],
  ["Cal", 37.25, 16.08, false],
  ["Ol", 38.65, 13.47, false],
  ["Qtz", 41.5, 15.28, false],
  ["Cal", 41.36, 14.55, true],
  ["Php", 40.2, 14.0, true],
  ["Py", 42.6, 13.71, false],
  ["Ol", 42.55, 13.0, false],
  ["Qtz", 49.28, 13.82, false],
  ["Fsp", 49.35, 13.12, false],
];

// pattern names: [text, 2θ, intensity]
const panelLabels: [string, number, number][] = [
  ["(a)", 53.62, 1.17],
  ["(b)", 53.62, 5.24],
  ["(c)", 53.62, 9.15],
  ["(d)", 53.7, 13.13],
];

// arrows: [2θ, start intensity, end intensity]
const arrows: [number, number, number][] = [
  [27.34, 14.77, 13.7],
  [37.35, 15.72, 12.95],
];

const xTickInterval = 5;
const majorYTicks = [0, 2, 4, 6, 8, 10, 12, 14, 16];
const minorYTicks = [1, 3, 5, 7, 9, 11, 13, 15];

const FONT = '"Liberation Sans", Arial, Helvetica, sans-serif';
const BLUE = "#0a0ae6";

export default function App() {
  const ref = useRef<HTMLDivElement>(null);

  useEffect(() => {
    document.body.style.margin = "0";
    if (!ref.current) return;
    const chart = echarts.init(ref.current, null, { renderer: "svg" });

    const tickLine = { color: "#000", width: 3 };

    const option: any = {
      animation: false,
      backgroundColor: "#fff",
      grid: {
        left: 121,
        right: 21,
        top: 12,
        bottom: 118,
        show: true,
        borderColor: "#000",
        borderWidth: 3,
        backgroundColor: "transparent",
      },
      xAxis: {
        type: "value",
        min: 5,
        max: 55,
        interval: xTickInterval,
        axisLine: { show: true, onZero: false, lineStyle: { color: "#000", width: 3 } },
        axisTick: { show: true, inside: true, length: 18, lineStyle: tickLine },
        minorTick: { show: true, splitNumber: 2, length: 9, lineStyle: tickLine },
        splitLine: { show: false },
        minorSplitLine: { show: false },
        axisLabel: { color: "#000", fontSize: 31, fontFamily: FONT, margin: 24 },
        name: "{a|2}{b|Θ}",
        nameLocation: "middle",
        nameGap: 78,
        nameTextStyle: {
          color: "#000",
          fontFamily: FONT,
          rich: {
            a: { fontSize: 40, fontFamily: FONT, color: "#000" },
            b: { fontSize: 24, fontFamily: FONT, color: "#000", padding: [8, 0, 0, 0] },
          },
        },
      },
      yAxis: [
        {
          type: "value",
          min: -0.17,
          max: 17,
          position: "left",
          axisLine: { show: true, onZero: false, lineStyle: { color: "#000", width: 3 } },
          axisTick: { show: true, inside: true, length: 18, customValues: majorYTicks, lineStyle: tickLine },
          axisLabel: { show: false },
          splitLine: { show: false },
        },
        {
          type: "value",
          min: -0.17,
          max: 17,
          position: "left",
          offset: 0,
          axisLine: { show: false, onZero: false },
          axisTick: { show: true, inside: true, length: 10, customValues: minorYTicks, lineStyle: tickLine },
          axisLabel: { show: false },
          splitLine: { show: false },
        },
      ],
      graphic: [
        {
          type: "text",
          x: 35,
          y: 485,
          rotation: Math.PI / 2,
          style: {
            text: "Intensity (a.u.)",
            fill: "#000",
            font: `39px ${FONT}`,
            align: "center",
            verticalAlign: "middle",
          },
        },
      ],
      series: [
        {
          name: "(a)",
          type: "line",
          data: seriesA,
          showSymbol: false,
          symbol: "none",
          silent: true,
          lineStyle: { color: BLUE, width: 2 },
          z: 3,
        },
        {
          name: "(b)",
          type: "line",
          data: seriesB,
          showSymbol: false,
          symbol: "none",
          silent: true,
          lineStyle: { color: BLUE, width: 2.2 },
          z: 3,
        },
        {
          name: "(c)",
          type: "line",
          data: seriesC,
          showSymbol: false,
          symbol: "none",
          silent: true,
          lineStyle: { color: BLUE, width: 1.5 },
          z: 3,
        },
        {
          name: "(d)",
          type: "line",
          data: seriesD,
          showSymbol: false,
          symbol: "none",
          silent: true,
          lineStyle: { color: "#000", width: 3.2 },
          z: 4,
          markLine: {
            silent: true,
            symbol: ["none", "triangle"],
            symbolSize: [14, 26],
            label: { show: false },
            lineStyle: { color: "#000", width: 4, type: "solid" },
            emphasis: { disabled: true },
            data: arrows.map(([x, y0, y1]) => [
              { coord: [x, y0] },
              { coord: [x, y1] },
            ]),
          },
        },
        {
          name: "phases",
          type: "scatter",
          symbolSize: 1,
          silent: true,
          itemStyle: { color: "transparent" },
          z: 5,
          label: {
            show: true,
            position: "inside",
            color: "#000",
            fontSize: 30,
            fontFamily: FONT,
          },
          data: phaseLabels.map(([t, x, y, b]) => ({
            value: [x, y],
            label: { formatter: t, fontWeight: b ? "bold" : "normal" },
          })),
        },
        {
          name: "panels",
          type: "scatter",
          symbolSize: 1,
          silent: true,
          itemStyle: { color: "transparent" },
          z: 5,
          label: {
            show: true,
            position: "inside",
            color: "#000",
            fontSize: 52,
            fontFamily: FONT,
          },
          data: panelLabels.map(([t, x, y]) => ({
            value: [x, y],
            label: { formatter: t },
          })),
        },
      ],
    };

    chart.setOption(option);
    return () => {
      chart.dispose();
    };
  }, []);

  return <div ref={ref} style={{ width: 1807, height: 1054 }} />;
}
